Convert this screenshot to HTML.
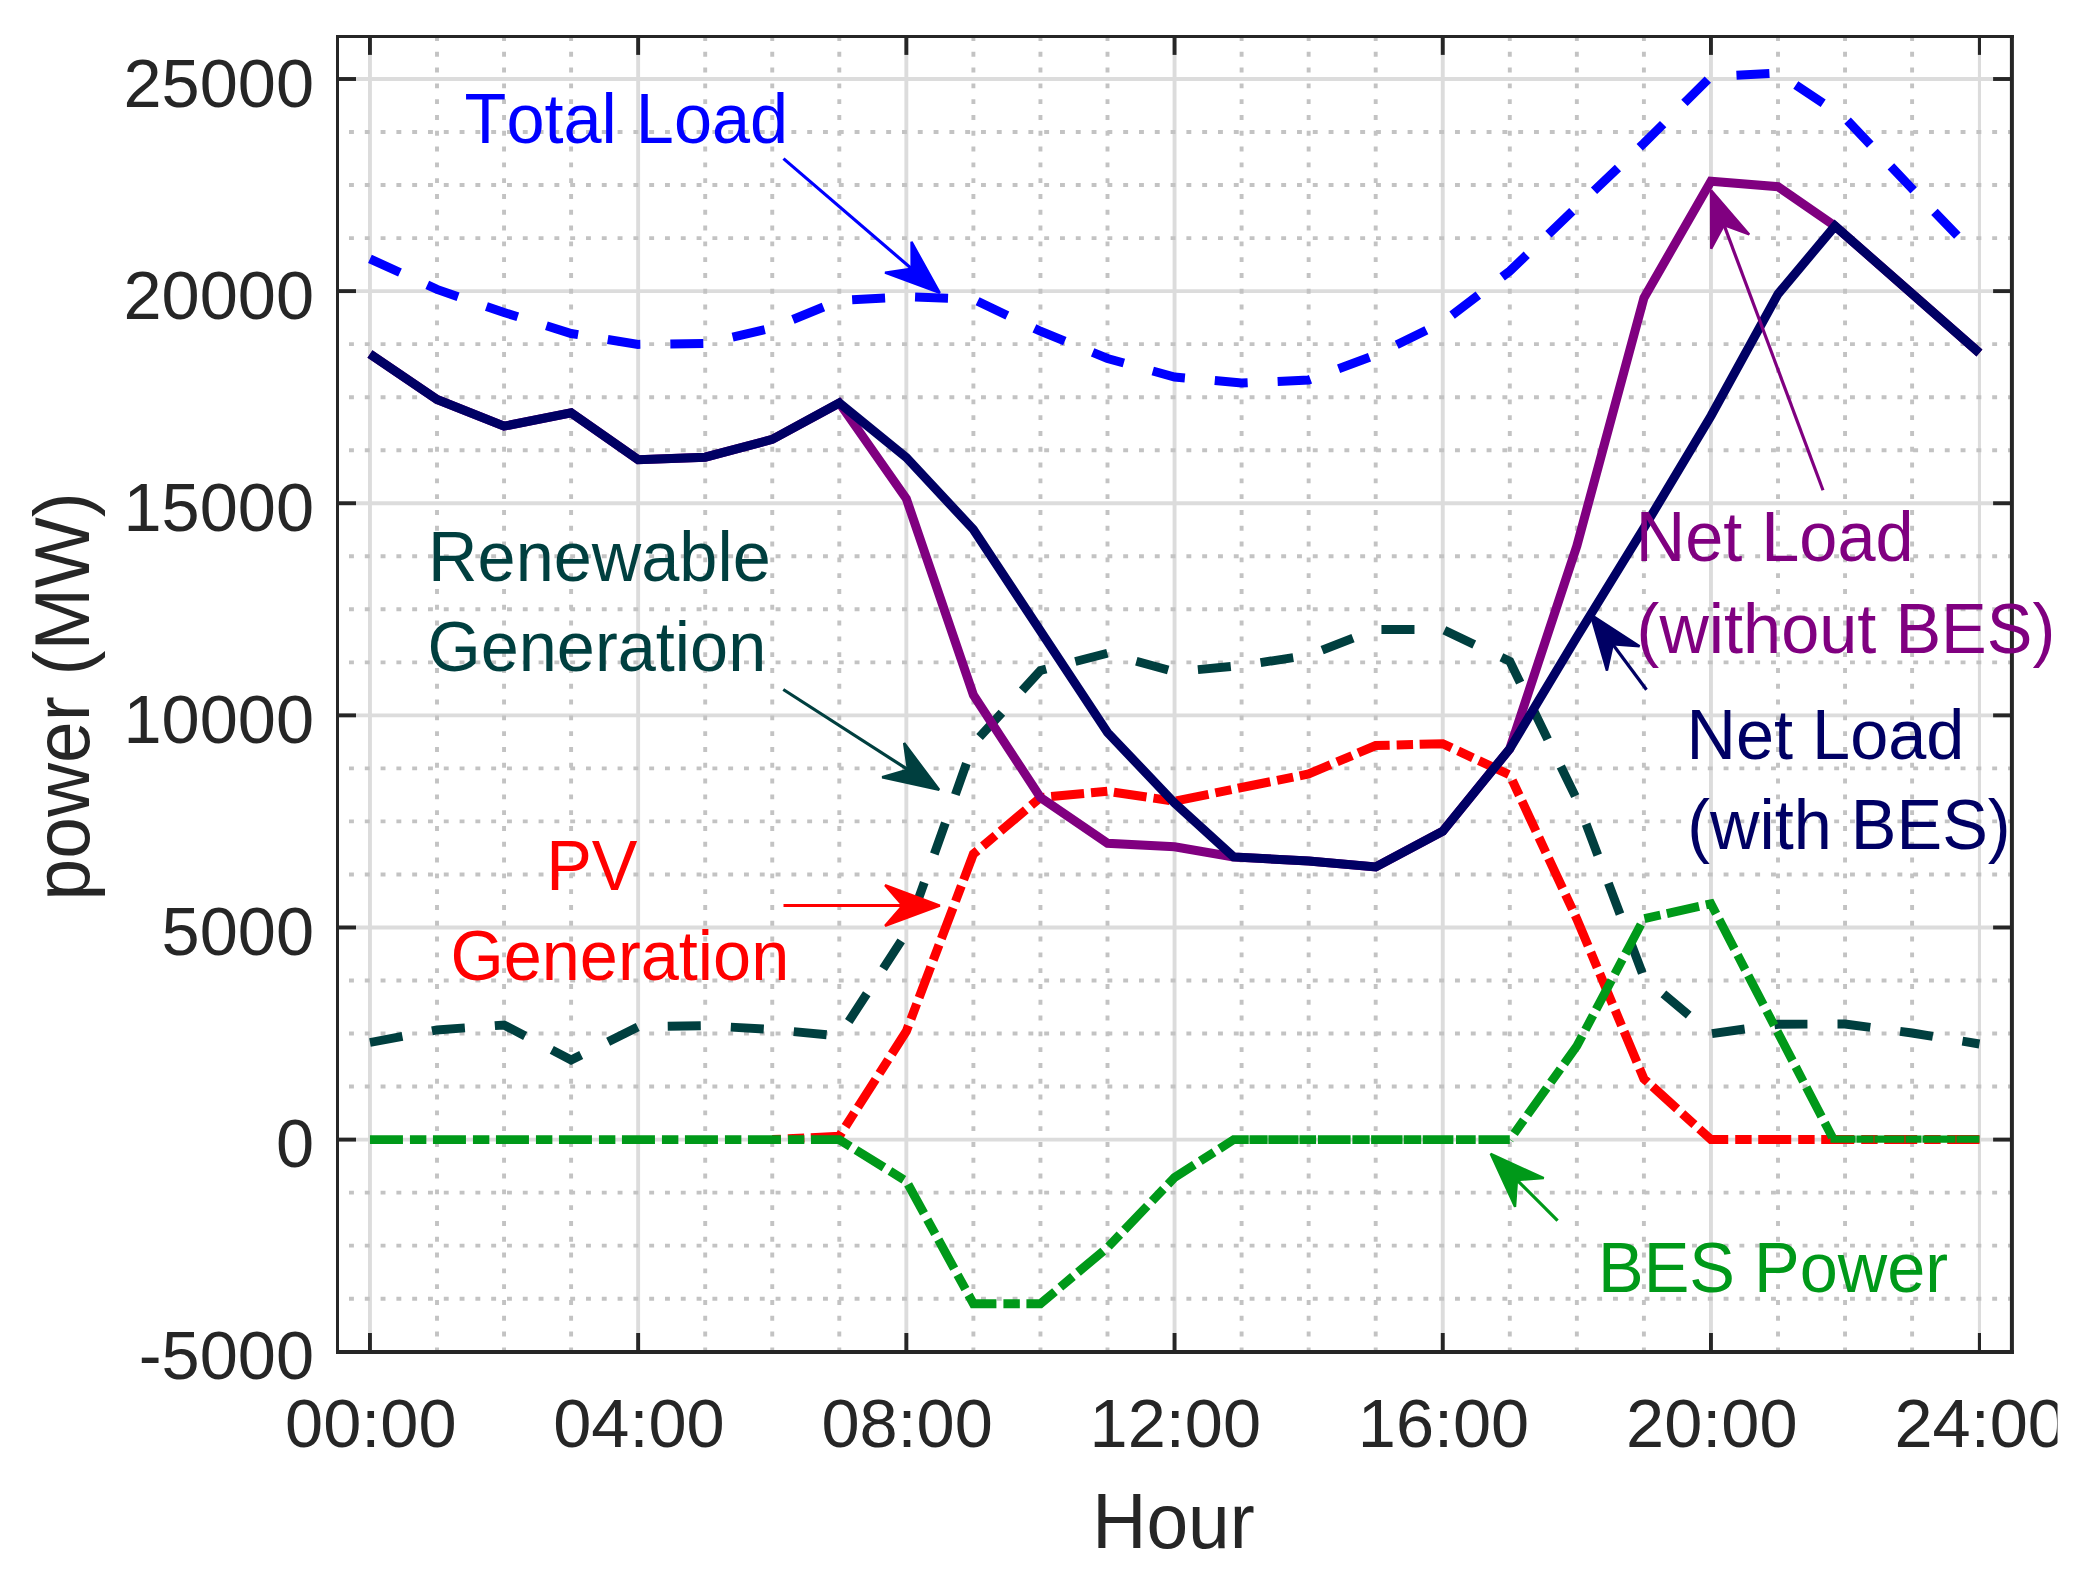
<!DOCTYPE html>
<html lang="en"><head><meta charset="utf-8"><title>Daily power profile</title>
<style>html,body{margin:0;padding:0;background:#fff;width:2092px;height:1581px}svg{display:block}text{font-family:"Liberation Sans",sans-serif;font-kerning:none}</style></head><body>
<svg width="2092" height="1581" viewBox="0 0 2092 1581">
<rect width="2092" height="1581" fill="#fff"/>
<g stroke="#dcdcdc" stroke-width="3.9" fill="none">
<line x1="369.95" y1="36.50" x2="369.95" y2="1351.90"/>
<line x1="638.15" y1="36.50" x2="638.15" y2="1351.90"/>
<line x1="906.35" y1="36.50" x2="906.35" y2="1351.90"/>
<line x1="1174.55" y1="36.50" x2="1174.55" y2="1351.90"/>
<line x1="1442.75" y1="36.50" x2="1442.75" y2="1351.90"/>
<line x1="1710.95" y1="36.50" x2="1710.95" y2="1351.90"/>
<line x1="1979.45" y1="36.50" x2="1979.45" y2="1351.90" stroke-width="3.1"/>
<line x1="337.50" y1="1139.60" x2="2011.90" y2="1139.60"/>
<line x1="337.50" y1="927.48" x2="2011.90" y2="927.48"/>
<line x1="337.50" y1="715.36" x2="2011.90" y2="715.36"/>
<line x1="337.50" y1="503.24" x2="2011.90" y2="503.24"/>
<line x1="337.50" y1="291.12" x2="2011.90" y2="291.12"/>
<line x1="337.50" y1="79.00" x2="2011.90" y2="79.00"/>
</g>
<g stroke="#c3c3c3" stroke-width="3.9" fill="none" stroke-dasharray="4.9 10.9">
<line x1="437.00" y1="36.00" x2="437.00" y2="1351.90"/>
<line x1="504.05" y1="36.00" x2="504.05" y2="1351.90"/>
<line x1="571.10" y1="36.00" x2="571.10" y2="1351.90"/>
<line x1="705.20" y1="36.00" x2="705.20" y2="1351.90"/>
<line x1="772.25" y1="36.00" x2="772.25" y2="1351.90"/>
<line x1="839.30" y1="36.00" x2="839.30" y2="1351.90"/>
<line x1="973.40" y1="36.00" x2="973.40" y2="1351.90"/>
<line x1="1040.45" y1="36.00" x2="1040.45" y2="1351.90"/>
<line x1="1107.50" y1="36.00" x2="1107.50" y2="1351.90"/>
<line x1="1241.60" y1="36.00" x2="1241.60" y2="1351.90"/>
<line x1="1308.65" y1="36.00" x2="1308.65" y2="1351.90"/>
<line x1="1375.70" y1="36.00" x2="1375.70" y2="1351.90"/>
<line x1="1509.80" y1="36.00" x2="1509.80" y2="1351.90"/>
<line x1="1576.85" y1="36.00" x2="1576.85" y2="1351.90"/>
<line x1="1643.90" y1="36.00" x2="1643.90" y2="1351.90"/>
<line x1="1778.00" y1="36.00" x2="1778.00" y2="1351.90"/>
<line x1="1845.05" y1="36.00" x2="1845.05" y2="1351.90"/>
<line x1="1912.10" y1="36.00" x2="1912.10" y2="1351.90"/>
<line x1="349.00" y1="1298.69" x2="2011.90" y2="1298.69"/>
<line x1="349.00" y1="1245.66" x2="2011.90" y2="1245.66"/>
<line x1="349.00" y1="1192.63" x2="2011.90" y2="1192.63"/>
<line x1="349.00" y1="1086.57" x2="2011.90" y2="1086.57"/>
<line x1="349.00" y1="1033.54" x2="2011.90" y2="1033.54"/>
<line x1="349.00" y1="980.51" x2="2011.90" y2="980.51"/>
<line x1="349.00" y1="874.45" x2="2011.90" y2="874.45"/>
<line x1="349.00" y1="821.42" x2="2011.90" y2="821.42"/>
<line x1="349.00" y1="768.39" x2="2011.90" y2="768.39"/>
<line x1="349.00" y1="662.33" x2="2011.90" y2="662.33"/>
<line x1="349.00" y1="609.30" x2="2011.90" y2="609.30"/>
<line x1="349.00" y1="556.27" x2="2011.90" y2="556.27"/>
<line x1="349.00" y1="450.21" x2="2011.90" y2="450.21"/>
<line x1="349.00" y1="397.18" x2="2011.90" y2="397.18"/>
<line x1="349.00" y1="344.15" x2="2011.90" y2="344.15"/>
<line x1="349.00" y1="238.09" x2="2011.90" y2="238.09"/>
<line x1="349.00" y1="185.06" x2="2011.90" y2="185.06"/>
<line x1="349.00" y1="132.03" x2="2011.90" y2="132.03"/>
</g>
<g stroke="#262626" fill="none" stroke-linecap="butt">
<line x1="337.50" y1="35.00" x2="337.50" y2="1353.90" stroke-width="3"/>
<line x1="336.00" y1="36.50" x2="2013.90" y2="36.50" stroke-width="3"/>
<line x1="2011.90" y1="35.00" x2="2011.90" y2="1353.90" stroke-width="4"/>
<line x1="336.00" y1="1351.90" x2="2013.90" y2="1351.90" stroke-width="4"/>
<g stroke-width="3.9">
<line x1="369.95" y1="1351.90" x2="369.95" y2="1333.00"/>
<line x1="369.95" y1="36.50" x2="369.95" y2="54.90"/>
<line x1="638.15" y1="1351.90" x2="638.15" y2="1333.00"/>
<line x1="638.15" y1="36.50" x2="638.15" y2="54.90"/>
<line x1="906.35" y1="1351.90" x2="906.35" y2="1333.00"/>
<line x1="906.35" y1="36.50" x2="906.35" y2="54.90"/>
<line x1="1174.55" y1="1351.90" x2="1174.55" y2="1333.00"/>
<line x1="1174.55" y1="36.50" x2="1174.55" y2="54.90"/>
<line x1="1442.75" y1="1351.90" x2="1442.75" y2="1333.00"/>
<line x1="1442.75" y1="36.50" x2="1442.75" y2="54.90"/>
<line x1="1710.95" y1="1351.90" x2="1710.95" y2="1333.00"/>
<line x1="1710.95" y1="36.50" x2="1710.95" y2="54.90"/>
<line x1="1979.45" y1="1351.90" x2="1979.45" y2="1333.00" stroke-width="3.1"/>
<line x1="1979.45" y1="36.50" x2="1979.45" y2="54.90" stroke-width="3.1"/>
<line x1="337.50" y1="1139.60" x2="356.00" y2="1139.60"/>
<line x1="2011.90" y1="1139.60" x2="1993.10" y2="1139.60"/>
<line x1="337.50" y1="927.48" x2="356.00" y2="927.48"/>
<line x1="2011.90" y1="927.48" x2="1993.10" y2="927.48"/>
<line x1="337.50" y1="715.36" x2="356.00" y2="715.36"/>
<line x1="2011.90" y1="715.36" x2="1993.10" y2="715.36"/>
<line x1="337.50" y1="503.24" x2="356.00" y2="503.24"/>
<line x1="2011.90" y1="503.24" x2="1993.10" y2="503.24"/>
<line x1="337.50" y1="291.12" x2="356.00" y2="291.12"/>
<line x1="2011.90" y1="291.12" x2="1993.10" y2="291.12"/>
<line x1="337.50" y1="79.00" x2="356.00" y2="79.00"/>
<line x1="2011.90" y1="79.00" x2="1993.10" y2="79.00"/>
</g></g>
<g fill="none" stroke-linejoin="miter" stroke-linecap="butt">
<polyline points="369.95,258.80 437.00,289.40 504.05,312.50 571.10,333.50 638.15,344.40 705.20,343.40 772.25,328.00 839.30,300.50 906.35,296.75 973.40,299.25 1040.45,331.25 1107.50,358.50 1174.55,377.00 1241.60,383.00 1308.65,380.00 1375.70,355.00 1442.75,322.25 1509.80,271.00 1576.85,207.00 1643.90,143.25 1710.95,76.50 1778.00,73.00 1845.05,118.00 1912.10,188.75 1977.96,257.06" stroke="#0000ff" stroke-width="9" stroke-dasharray="33 30"/>
<polyline points="369.95,1042.50 437.00,1030.00 504.05,1025.00 571.10,1060.00 638.15,1026.75 705.20,1025.75 772.25,1029.50 839.30,1036.00 906.35,933.00 973.40,743.75 1040.45,670.50 1107.50,653.25 1174.55,671.75 1241.60,665.50 1308.65,655.25 1375.70,629.50 1442.75,629.50 1509.80,661.25 1576.85,799.50 1643.90,977.50 1710.95,1033.75 1778.00,1024.25 1845.05,1024.00 1912.10,1033.00 1979.45,1044.00" stroke="#003f3f" stroke-width="8.9" stroke-dasharray="33.05 30.05"/>
<polyline points="772.25,1139.60 839.30,1136.25 906.35,1031.25 973.40,854.00 1040.45,797.50 1107.50,791.25 1174.55,801.25 1241.60,787.50 1308.65,774.00 1375.70,745.50 1442.75,743.75 1509.80,775.00 1576.85,919.00 1643.90,1078.75 1710.95,1139.60 1778.00,1139.60 1845.05,1139.60 1912.10,1139.60 1979.45,1139.60" stroke="#ff0000" stroke-width="9" stroke-dasharray="33 7 16.4 6.6" stroke-dashoffset="24.30"/>
<polyline points="369.95,1139.60 839.30,1139.60 906.35,1181.25 973.40,1303.75 1040.45,1303.75 1107.50,1247.50 1174.55,1177.50 1233.70,1139.60 1509.80,1139.60" stroke="#009919" stroke-width="8.9" stroke-dasharray="33.00 7.00 16.40 6.60 33.00 7.00 16.40 6.60 33.00 7.00 16.40 6.60 33.00 7.00 16.40 6.60 33.00 7.00 16.40 6.60 33.00 7.00 16.40 6.60 33.00 7.00 16.40 6.60 41.35 6.60 33.00 7.00 16.40 6.60 33.00 7.00 16.40 6.60 33.00 7.00 16.40 6.60 33.00 7.00 16.40 6.60 33.00 7.00 16.40 6.60 33.00 7.00 16.40 6.60 33.00 7.00 16.40 6.60 33.00 7.00 16.40 6.60 31.78 0.70 18.20 0.70 30.20 0.90 16.65 1.80 32.70 1.80 17.30 1.40 31.45 1.10 17.65 1.40 30.70 2.60 19.70 2.80 31.30 50.00"/>
<polyline points="1509.80,1139.60 1576.85,1046.00 1643.90,918.75 1710.95,903.75 1833.50,1139.60" stroke="#009919" stroke-width="8.8" stroke-dasharray="0.50 7.00 16.40 6.60 33.00 7.00 16.40 6.60 33.00 7.00 16.40 6.60 33.00 7.00 16.40 6.60 33.00 7.00 16.40 6.60 33.00 7.00 16.40 6.60 33.00 7.00 16.40 6.60 33.00 7.00 16.40 6.60 33.00 7.00 16.40 6.60 33.00 7.00 16.40 52.57"/>
<polyline points="1830.50,1139.20 1979.45,1139.20" stroke="#009919" stroke-width="7.2" stroke-dasharray="25.10 0.80 17.20 0.80 30.10 1.00 16.00 1.00 33.05 0.90 23.00 50.00"/>
<polyline points="369.95,354.00 437.00,399.40 504.05,426.20 571.10,412.80 638.15,459.70 705.20,457.20 772.25,439.40 839.30,403.00 906.35,498.75 973.40,695.00 1040.45,797.50 1107.50,843.30 1174.55,846.80 1233.60,856.90 1308.65,861.00 1375.70,867.00 1442.75,831.25 1509.80,748.75 1576.85,546.00 1643.90,298.00 1710.95,181.25 1778.00,186.70 1835.00,226.00 1979.45,353.00" stroke="#800080" stroke-width="9"/>
<polyline points="369.95,354.00 437.00,399.40 504.05,426.20 571.10,412.80 638.15,459.70 705.20,457.20 772.25,439.40 839.30,403.00 906.35,457.50 973.40,529.50 1040.45,631.00 1107.50,732.50 1174.55,803.10 1233.60,856.90 1308.65,861.00 1375.70,867.00 1442.75,831.25 1509.80,748.75 1576.85,637.00 1643.90,528.00 1710.95,416.00 1778.00,294.00 1835.00,226.00 1979.45,353.00" stroke="#000064" stroke-width="9"/>
</g>
<g>
<line x1="783.50" y1="158.60" x2="916.19" y2="272.63" stroke="#0000ff" stroke-width="3.2"/><polygon points="939.77,292.90 911.52,241.86 911.64,268.72 885.06,272.65" fill="#0000ff" stroke="#0000ff" stroke-width="2.4" stroke-linejoin="bevel"/>
<line x1="783.30" y1="689.50" x2="912.99" y2="772.91" stroke="#003f3f" stroke-width="3.2"/><polygon points="939.15,789.74 904.12,743.07 907.94,769.67 882.16,777.22" fill="#003f3f" stroke="#003f3f" stroke-width="2.4" stroke-linejoin="bevel"/>
<line x1="783.50" y1="905.50" x2="908.70" y2="905.50" stroke="#ff0000" stroke-width="3.2"/><polygon points="939.80,905.50 885.10,885.20 902.70,905.50 885.10,925.80" fill="#ff0000" stroke="#ff0000" stroke-width="2.4" stroke-linejoin="bevel"/>
<line x1="1823.00" y1="490.30" x2="1721.97" y2="219.42" stroke="#800080" stroke-width="3.2"/><polygon points="1711.10,190.28 1711.20,248.63 1724.07,225.04 1749.24,234.44" fill="#800080" stroke="#800080" stroke-width="2.4" stroke-linejoin="bevel"/>
<line x1="1646.50" y1="689.80" x2="1609.21" y2="639.52" stroke="#000064" stroke-width="3.2"/><polygon points="1590.68,614.54 1606.96,670.57 1612.78,644.34 1639.57,646.38" fill="#000064" stroke="#000064" stroke-width="2.4" stroke-linejoin="bevel"/>
<line x1="1557.60" y1="1220.70" x2="1512.70" y2="1175.80" stroke="#009919" stroke-width="3.2"/><polygon points="1490.71,1153.81 1515.04,1206.85 1516.95,1180.05 1543.75,1178.14" fill="#009919" stroke="#009919" stroke-width="2.4" stroke-linejoin="bevel"/>
</g>
<g font-size="68.5" fill="#262626">
<text x="314" y="1379.2" text-anchor="end">-5000</text>
<text x="314" y="1167.1" text-anchor="end">0</text>
<text x="314" y="955.0" text-anchor="end">5000</text>
<text x="314" y="742.9" text-anchor="end">10000</text>
<text x="314" y="530.7" text-anchor="end">15000</text>
<text x="314" y="318.6" text-anchor="end">20000</text>
<text x="314" y="106.5" text-anchor="end">25000</text>
<g clip-path="url(#clipR)">
<text x="370.8" y="1446.8" text-anchor="middle">00:00</text>
<text x="638.9" y="1446.8" text-anchor="middle">04:00</text>
<text x="907.1" y="1446.8" text-anchor="middle">08:00</text>
<text x="1175.3" y="1446.8" text-anchor="middle">12:00</text>
<text x="1443.5" y="1446.8" text-anchor="middle">16:00</text>
<text x="1711.8" y="1446.8" text-anchor="middle">20:00</text>
<text x="1980.2" y="1446.8" text-anchor="middle">24:00</text>
</g></g>
<defs><clipPath id="clipR"><rect x="0" y="0" width="2057.5" height="1581"/></clipPath></defs>
<g font-size="75.0" fill="#262626">
<text transform="translate(1173.5,1548.2) scale(1,1.035)" text-anchor="middle">Hour</text>
<text transform="translate(88.5,696.4) rotate(-90) scale(1,1.035)" text-anchor="middle">power (MW)</text>
</g>
<g font-size="68.5">
<text transform="translate(464.6,142.6) scale(1,1.035)" fill="#0000ff">Total Load</text>
<text transform="translate(428.1,580.8) scale(1,1.035)" fill="#003f3f">Renewable</text>
<text transform="translate(427.4,671.3) scale(1,1.035)" fill="#003f3f">Generation</text>
<text transform="translate(546.2,890.0) scale(1,1.035)" fill="#ff0000">PV</text>
<text transform="translate(450.4,980.4) scale(1,1.035)" fill="#ff0000">Generation</text>
<text transform="translate(1635.7,561.4) scale(1,1.035)" fill="#800080">Net Load</text>
<text transform="translate(1636.6,652.9) scale(1,1.035)" fill="#800080">(without BES)</text>
<text transform="translate(1686.5,758.5) scale(1,1.035)" fill="#000064">Net Load</text>
<text transform="translate(1687.2,849.3) scale(1,1.035)" fill="#000064">(with BES)</text>
<text transform="translate(1598.0,1291.7) scale(1,1.035)" fill="#009919">BES Power</text>
</g>
</svg></body></html>
